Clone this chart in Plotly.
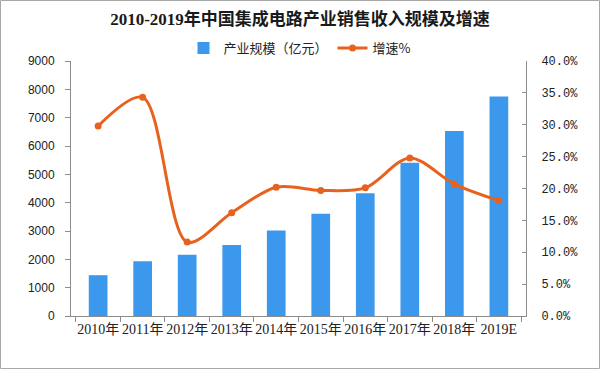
import plotly.graph_objects as go

categories = ["2010年", "2011年", "2012年", "2013年", "2014年", "2015年", "2016年", "2017年", "2018年", "2019E"]
scale_values = [1440, 1934, 2159, 2509, 3015, 3610, 4336, 5411, 6532, 7750]
growth_values = [29.8, 34.3, 11.6, 16.2, 20.2, 19.7, 20.1, 24.8, 20.7, 18.1]
left_ticks = [0, 1000, 2000, 3000, 4000, 5000, 6000, 7000, 8000, 9000]
right_ticks = [0, 5, 10, 15, 20, 25, 30, 35, 40]
right_labels = ["0.0%", "5.0%", "10.0%", "15.0%", "20.0%", "25.0%", "30.0%", "35.0%", "40.0%"]

W, H = 600, 369
ml, mr, mt, mb = 71, 74, 61, 53
pw, ph = W - ml - mr, H - mt - mb

fig = go.Figure()
fig.add_trace(go.Bar(
    x=categories, y=scale_values, name="产业规模（亿元）",
    marker=dict(color="#3c98ec", line=dict(width=0)), width=0.42,
))
fig.add_trace(go.Scatter(
    x=categories, y=growth_values, name="增速%", yaxis="y2",
    mode="lines+markers", line=dict(color="#e8621f", width=3, shape="spline", smoothing=0.9),
    marker=dict(size=7, color="#e8621f"),
))

axis_col = "#8c8c8c"
fig.update_layout(
    width=W, height=H,
    margin=dict(l=ml, r=mr, t=mt, b=mb, autoexpand=False),
    paper_bgcolor="white", plot_bgcolor="white",
    title=dict(text="<b>2010-2019年中国集成电路产业销售收入规模及增速</b>",
               x=0.5, xref="container", xanchor="center",
               y=1 - 19 / H, yref="container", yanchor="middle",
               font=dict(family="Liberation Serif, Noto Sans CJK SC", size=17, color="#1a1a1a")),
    legend=dict(orientation="h", x=0.5, xref="container", xanchor="center",
                y=1 - 48 / H, yref="container", yanchor="middle",
                font=dict(family="Noto Sans CJK SC", size=13, color="#222"),
                itemwidth=30, bgcolor="rgba(0,0,0,0)"),
    xaxis=dict(showline=True, linecolor=axis_col, linewidth=1,
               ticks="outside", tickson="boundaries", ticklen=5, tickcolor=axis_col,
               tickangle=0, tickfont=dict(family="Liberation Serif, Noto Sans CJK SC", size=14, color="#222"),
               showgrid=False, fixedrange=True),
    yaxis=dict(range=[0, 9000], tickvals=left_ticks, showgrid=False, zeroline=False,
               showline=True, linecolor=axis_col, linewidth=1,
               ticks="outside", ticklen=5, tickcolor=axis_col,
               tickfont=dict(family="Liberation Sans, Arial", size=12, color="#222"),
               ticklabelstandoff=8),
    yaxis2=dict(range=[0, 40], tickvals=right_ticks, ticktext=right_labels,
                overlaying="y", side="right",
                showgrid=False, zeroline=False,
                showline=True, linecolor=axis_col, linewidth=1,
                ticks="inside", ticklen=4, tickcolor=axis_col,
                tickfont=dict(family="Liberation Mono", size=12, color="#222"),
                ticklabelstandoff=12),
    showlegend=True,
)

# outer frame
fig.add_shape(type="rect", xref="paper", yref="paper",
              x0=(-ml + 0.5) / pw, x1=(pw + mr - 0.5) / pw,
              y0=(-mb + 0.5) / ph, y1=(ph + mt - 0.5) / ph,
              line=dict(color="#a8a8a8", width=1), fillcolor="rgba(0,0,0,0)", layer="below")

fig.write_html("out.html", config={"displayModeBar": False},
               post_script="document.body.style.margin='0';")
